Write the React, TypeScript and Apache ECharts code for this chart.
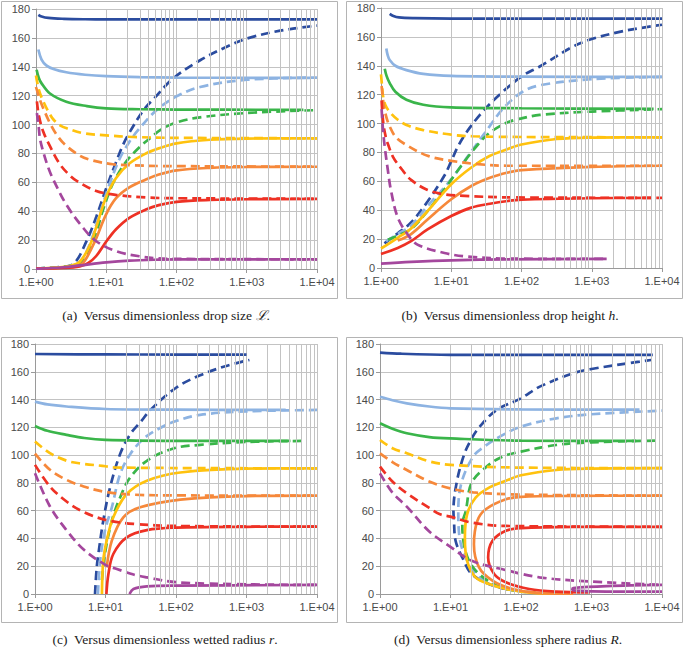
import React, { useEffect, useRef } from "react";
import * as echarts from "echarts";

// ---------- colours (one per family of curves) ----------
const FAMILY = ["darkBlue", "lightBlue", "green", "yellow", "orange", "red", "purple"];
const COLOR: Record<string, string> = {
  darkBlue: "#2b4c9f",
  lightBlue: "#8db3e2",
  green: "#3ab54a",
  yellow: "#ffc20e",
  orange: "#f6883a",
  red: "#ee3124",
  purple: "#a4479d",
};

// ---------- axis ticks ----------
const X_MIN = 1;
const X_MAX = 10000;
const Y_MIN = 0;
const Y_MAX = 180;
const Y_STEP = 20;
const MINOR_X = [20, 30, 40, 50, 60, 70, 80, 90, 200, 300, 400, 500, 600, 700, 800, 900, 2000, 3000, 4000, 5000, 6000, 7000, 8000, 9000];

// ---------- captions ----------
const CAPTIONS = [
  "{n|(a)  Versus dimensionless drop size }{i|ℒ}{n|.}",
  "{n|(b)  Versus dimensionless drop height }{i|h}{n|.}",
  "{n|(c)  Versus dimensionless wetted radius }{i|r}{n|.}",
  "{n|(d)  Versus dimensionless sphere radius }{i|R}{n|.}",
];

// ---------- panel (a): versus drop size ----------
const A_darkBlue_solid = [[1.08, 176], [1.2, 174.8], [1.5, 173.8], [2.5, 173.2], [5, 172.9], [10, 172.8], [10000, 172.8]];
const A_darkBlue_dash = [[1, 0.3], [2, 1.2], [3.4, 3.5], [5.2, 19], [7.2, 36], [10, 56], [13.8, 74], [17, 85], [20, 92], [34, 110], [50, 119], [90, 132], [217, 144.5], [500, 153.5], [1000, 159.5], [3000, 165], [10000, 168.5]];
const A_lightBlue_solid = [[1.08, 152], [1.2, 145], [1.4, 141], [1.77, 138.5], [2.7, 136.2], [5, 134.5], [10, 133.5], [30, 132.8], [100, 132.5], [8100, 132.3]];
const A_lightBlue_dash = [[1, 0.3], [2, 1.2], [3, 2.2], [4.2, 5], [5.8, 17], [8, 37.7], [11.1, 58.5], [15.4, 76], [21.3, 88], [30, 97.5], [52, 110], [100, 119.5], [217, 126], [1000, 131], [10000, 132.5]];
const A_green_solid = [[1.02, 138], [1.1, 132], [1.2, 128.5], [1.58, 121.5], [2.7, 115.8], [5.3, 112.8], [10, 111.2], [30, 110.6], [100, 110.4], [6400, 110.2]];
const A_green_dash = [[1, 0.3], [2, 1], [3, 2], [4.2, 4], [6.5, 19], [9, 41], [12.4, 59], [19, 74], [30, 84.5], [42, 90.5], [60, 96.5], [100, 101.5], [217, 105], [1000, 108], [10000, 110]];
const A_yellow_solid = [[1, 0.3], [2, 1], [3, 2], [4.2, 5], [5.8, 16], [7.2, 29], [10, 50], [13.8, 63], [21.3, 73], [36.7, 80], [56, 83.5], [100, 87], [300, 89.5], [1000, 90.3], [10000, 90.5]];
const A_yellow_dash = [[1, 134], [1.1, 124], [1.27, 116], [1.5, 109], [1.77, 103.5], [2.2, 99.5], [2.74, 97.4], [4.7, 94], [10, 92.5], [24, 91.4], [100, 90.8], [10000, 90.5]];
const A_orange_solid = [[1, 0.3], [3, 1.2], [4.2, 2.5], [5, 6], [6.8, 18.5], [10, 38], [13.8, 49], [21.3, 56.5], [36.7, 62], [56, 65.4], [100, 68.3], [300, 70], [1000, 70.6], [10000, 70.8]];
const A_orange_dash = [[1, 126], [1.14, 117], [1.3, 110], [1.58, 101], [2, 92.5], [2.6, 86], [4.2, 78.5], [6, 75.5], [12.4, 72.5], [24, 71.8], [56, 71.3], [100, 71.2], [10000, 70.8]];
const A_red_solid = [[1, 0.2], [2.44, 0.7], [4.2, 1.8], [5.5, 4], [7.2, 9], [10, 19], [13.8, 27.5], [21.3, 35.4], [36.7, 41.2], [56, 44.2], [100, 46.5], [300, 47.8], [1000, 48.3], [10000, 48.5]];
const A_red_dash = [[1.03, 116], [1.1, 106], [1.27, 95], [1.58, 85], [2.19, 72.5], [3, 65], [3.8, 61], [7.2, 54], [13.8, 51.3], [36.7, 49.5], [100, 49], [10000, 48.6]];
const A_purple_solid = [[1, 0.1], [2.44, 1.2], [4.2, 2.5], [10, 4.6], [21.3, 5.8], [56, 6.5], [100, 6.7], [10000, 6.7]];
const A_purple_dash = [[1.03, 108], [1.1, 97], [1.14, 90], [1.27, 81], [1.5, 70], [1.76, 62], [2.7, 44.6], [4.7, 28.4], [7.2, 19.2], [13.8, 12.3], [29.6, 8.8], [56, 7.3], [100, 7], [1000, 6.8], [10000, 6.7]];

// ---------- panel (b): versus drop height ----------
const B_darkBlue_solid = [[1.33, 176], [1.5, 174.5], [1.8, 173.5], [3, 173], [10, 172.7], [10000, 172.6]];
const B_darkBlue_dash = [[1.12, 17], [1.73, 24], [2.68, 31.5], [4.6, 46], [8, 64], [10, 74], [12.4, 84], [16.5, 94], [25.6, 106], [44, 118], [100, 132.6], [182, 139.5], [546, 153.4], [1000, 158.5], [2800, 164], [10000, 168.4]];
const B_lightBlue_solid = [[1.19, 152], [1.25, 147], [1.33, 144], [1.6, 140], [2.3, 137], [4, 134.4], [10, 133], [100, 132.5], [10000, 132.3]];
const B_lightBlue_dash = [[1.18, 18.6], [1.73, 23.5], [2.68, 29.5], [4.6, 42.9], [10, 61.5], [17.3, 77.5], [24, 87], [30, 93.5], [55, 110.5], [100, 121.5], [182, 126.5], [1000, 130.7], [10000, 132.3]];
const B_green_solid = [[1.13, 138], [1.2, 133], [1.33, 128], [1.6, 122], [2.3, 116.5], [4, 113], [10, 111.2], [100, 110.6], [7600, 110.2]];
const B_green_dash = [[1.25, 19.5], [1.73, 22.5], [2.68, 27], [4.6, 39.4], [8, 54.5], [13.9, 70.8], [24, 85.5], [35, 93.5], [61, 100.5], [100, 103.6], [182, 106], [1000, 108.3], [10000, 110]];
const B_yellow_solid = [[1, 13.5], [1.73, 20.9], [2.68, 27.4], [4.6, 39.4], [10, 58], [19.3, 69.6], [35, 77.5], [64, 82.4], [100, 85.5], [315, 89.3], [1000, 90.3], [10000, 90.5]];
const B_yellow_dash = [[1, 134], [1.04, 125], [1.07, 119], [1.15, 113], [1.33, 108], [1.7, 103], [2.3, 99], [4, 95.5], [10, 92.3], [20, 91.2], [100, 90.7], [10000, 90.5]];
const B_orange_solid = [[1.73, 19], [2.68, 23.5], [4.6, 33.6], [10, 47.6], [19.3, 56.8], [35.5, 62.5], [64, 66.1], [100, 67.8], [1000, 70], [10000, 70.8]];
const B_orange_dash = [[1.02, 126], [1.04, 122], [1.1, 112], [1.2, 104], [1.33, 98], [1.6, 91], [2.15, 86], [4.6, 77.7], [10, 74.2], [24, 71.9], [64, 70.8], [10000, 70.8]];
const B_red_solid = [[1, 9.7], [1.73, 13.9], [2.68, 18.6], [4.6, 26.7], [10, 36], [19.3, 41.8], [35.5, 44.5], [64, 46.4], [100, 47.3], [1000, 48.3], [7200, 48.6]];
const B_red_dash = [[1.02, 116], [1.08, 100], [1.19, 89], [1.25, 86], [1.48, 77], [2, 68], [2.68, 61], [4.6, 54], [8, 51], [15.5, 49.9], [64, 48.9], [10000, 48.6]];
const B_purple_solid = [[1, 3], [2.68, 4.2], [10, 5.3], [64, 6], [1630, 6.3]];
const B_purple_dash = [[1.02, 110], [1.07, 95], [1.13, 84], [1.25, 68], [1.39, 53.4], [1.73, 35], [2.4, 23.2], [3.3, 16.2], [8, 10.4], [15.5, 8.1], [64, 6.5], [1630, 6.3]];

// ---------- panel (c): versus wetted radius ----------
const C_darkBlue_solid = [[1, 172.8], [10, 172.5], [100, 172.4], [1000, 172.4]];
const C_darkBlue_dash = [[7.1, 0], [7.5, 19], [7.93, 29], [9.3, 52.8], [11.6, 76.7], [16.1, 100.7], [22.4, 115], [32.8, 125], [43, 132.4], [100, 148.5], [220, 157.5], [500, 164], [1100, 168.5]];
const C_lightBlue_solid = [[1, 138.5], [1.5, 136.5], [2.8, 135], [10, 133.2], [100, 132.7], [3600, 132.5]];
const C_lightBlue_dash = [[7.8, 0], [8.4, 24], [9.8, 45.6], [12.3, 62.4], [16.1, 86.3], [22.4, 100.7], [35, 112], [59.7, 119.5], [100, 124.5], [220, 129], [1000, 131.5], [10000, 132.5]];
const C_green_solid = [[1, 121], [1.5, 117.5], [2.8, 114.6], [5, 112.3], [10, 111], [100, 110.3], [4200, 110.2]];
const C_green_dash = [[8.9, 10], [9.8, 28.8], [12.3, 52.8], [16.1, 69.5], [22.4, 83.9], [38.6, 95.9], [92, 104.8], [220, 107.4], [1000, 109.5], [6500, 110.2]];
const C_yellow_solid = [[8.9, 0], [9.3, 24], [10.4, 38.4], [12.9, 55.2], [20, 72], [38.6, 81.6], [115, 87.5], [1000, 90.3], [10000, 90.5]];
const C_yellow_dash = [[1, 109.8], [1.63, 101.4], [2.8, 96], [4.4, 94], [10, 92], [12.9, 91.2], [100, 90.7], [10000, 90.5]];
const C_orange_solid = [[10.4, 19.2], [12.3, 38.4], [17.9, 55.2], [31, 62.4], [115, 68], [1000, 70.5], [10000, 70.8]];
const C_orange_dash = [[1, 101], [1.63, 89.4], [2.8, 82.2], [4.9, 77.4], [10, 73.5], [25, 71.5], [100, 71], [10000, 70.8]];
const C_red_solid = [[10.3, 0], [11, 14.4], [12.9, 28.8], [20, 40.8], [38.6, 46], [100, 47.8], [1000, 48.4], [10000, 48.5]];
const C_red_dash = [[1, 93], [1.63, 77.4], [2.8, 66.6], [4.9, 59], [10, 53.4], [25, 50.5], [100, 49], [10000, 48.5]];
const C_purple_solid = [[21.9, 0], [24.9, 3.6], [38.6, 5.5], [100, 6], [10000, 6.5]];
const C_purple_dash = [[1, 87], [1.63, 63], [2.8, 46], [4.9, 32], [10, 21], [14.5, 18], [25, 14], [38.6, 12], [100, 8.5], [1000, 7], [10000, 6.5]];

// ---------- panel (d): versus sphere radius ----------
const D_darkBlue_solid = [[1, 173.8], [2, 173], [10, 172.2], [100, 172.1], [7400, 172.1]];
const D_darkBlue_dash = [[160, 1], [106, 1.9], [61, 3.6], [35, 7.2], [20, 14.4], [14.7, 26.3], [11.8, 38.3], [11.2, 52.6], [11, 60], [12.2, 80], [15.5, 100], [20, 112], [26, 120.5], [45, 132.5], [100, 140.9], [185, 149.3], [550, 158.9], [1000, 162], [4800, 167.3], [7000, 168.5]];
const D_lightBlue_solid = [[1, 142], [1.5, 139.5], [2.4, 137.3], [5, 135], [10, 133.7], [100, 132.9], [4800, 132.7]];
const D_lightBlue_dash = [[120, 1.2], [61, 3.6], [35, 7.5], [22.7, 14.4], [16.4, 26.3], [13.5, 40], [12.9, 60], [14.3, 80], [21, 99], [30, 106], [50, 113.3], [100, 120.5], [317, 126.5], [1000, 129.4], [10000, 132]];
const D_green_solid = [[1, 123], [1.5, 119], [2.4, 115.7], [5, 113], [10, 112], [100, 110.4], [4300, 110.2]];
const D_green_dash = [[80, 2.5], [45, 6], [25.4, 14.4], [18.3, 23.9], [15.5, 35.9], [14.7, 50.2], [16.5, 60], [19.9, 80], [32.5, 91.7], [55, 99], [100, 102.5], [317, 107.3], [1000, 109.2], [8200, 110.4]];
const D_yellow_solid = [[300, 0.3], [183, 0.5], [100, 1.7], [61, 3.6], [35.3, 7.2], [22.7, 12], [17.2, 23.9], [16, 40.7], [17.2, 57.4], [22.7, 69.4], [35.3, 76.6], [61, 81.5], [100, 85.5], [316, 89.3], [1000, 90.3], [10000, 90.6]];
const D_yellow_dash = [[1, 110.9], [1.5, 105], [2.4, 101.3], [5, 95.5], [10, 93], [100, 91], [10000, 90.6]];
const D_orange_solid = [[550, 0.3], [183, 0.7], [76, 3.6], [39.4, 9.6], [25.4, 19.1], [21.5, 35.9], [24, 52.6], [31.6, 61], [61, 68.2], [100, 70], [550, 70.6], [10000, 70.8]];
const D_orange_dash = [[1, 101.3], [1.5, 95], [2.4, 89.3], [5, 81], [10, 76], [21, 73.2], [100, 71.6], [10000, 70.8]];
const D_red_solid = [[950, 1.2], [315, 1.7], [131, 3.6], [61, 8.4], [41.6, 14.4], [34.2, 26.3], [39.4, 38.3], [61, 45.5], [100, 47.4], [550, 48.3], [10000, 48.4]];
const D_red_dash = [[1, 91.7], [1.5, 81], [2.4, 72.5], [5, 62], [7.1, 57.4], [10, 55.7], [20, 51.4], [61, 49], [10000, 48.4]];
const D_purple_solid = [[10000, 1.7], [1640, 1.7], [610, 2.4], [535, 3.3], [550, 4.3], [1640, 5.7], [10000, 6.5]];
const D_purple_dash = [[1, 86.9], [1.5, 73], [2.4, 62.9], [5, 45], [10, 34], [20, 23.9], [61, 17.2], [183, 12], [950, 9], [10000, 6.5]];

const PANELS: Record<string, number[][]>[] = [
  {
    darkBlue_solid: A_darkBlue_solid, darkBlue_dash: A_darkBlue_dash,
    lightBlue_solid: A_lightBlue_solid, lightBlue_dash: A_lightBlue_dash,
    green_solid: A_green_solid, green_dash: A_green_dash,
    yellow_solid: A_yellow_solid, yellow_dash: A_yellow_dash,
    orange_solid: A_orange_solid, orange_dash: A_orange_dash,
    red_solid: A_red_solid, red_dash: A_red_dash,
    purple_solid: A_purple_solid, purple_dash: A_purple_dash,
  },
  {
    darkBlue_solid: B_darkBlue_solid, darkBlue_dash: B_darkBlue_dash,
    lightBlue_solid: B_lightBlue_solid, lightBlue_dash: B_lightBlue_dash,
    green_solid: B_green_solid, green_dash: B_green_dash,
    yellow_solid: B_yellow_solid, yellow_dash: B_yellow_dash,
    orange_solid: B_orange_solid, orange_dash: B_orange_dash,
    red_solid: B_red_solid, red_dash: B_red_dash,
    purple_solid: B_purple_solid, purple_dash: B_purple_dash,
  },
  {
    darkBlue_solid: C_darkBlue_solid, darkBlue_dash: C_darkBlue_dash,
    lightBlue_solid: C_lightBlue_solid, lightBlue_dash: C_lightBlue_dash,
    green_solid: C_green_solid, green_dash: C_green_dash,
    yellow_solid: C_yellow_solid, yellow_dash: C_yellow_dash,
    orange_solid: C_orange_solid, orange_dash: C_orange_dash,
    red_solid: C_red_solid, red_dash: C_red_dash,
    purple_solid: C_purple_solid, purple_dash: C_purple_dash,
  },
  {
    darkBlue_solid: D_darkBlue_solid, darkBlue_dash: D_darkBlue_dash,
    lightBlue_solid: D_lightBlue_solid, lightBlue_dash: D_lightBlue_dash,
    green_solid: D_green_solid, green_dash: D_green_dash,
    yellow_solid: D_yellow_solid, yellow_dash: D_yellow_dash,
    orange_solid: D_orange_solid, orange_dash: D_orange_dash,
    red_solid: D_red_solid, red_dash: D_red_dash,
    purple_solid: D_purple_solid, purple_dash: D_purple_dash,
  },
];

// ---------- layout ----------
const GRIDS = [
  { left: 36, top: 9, width: 281, height: 260 },
  { left: 381, top: 8, width: 281, height: 260 },
  { left: 35, top: 344, width: 282, height: 250 },
  { left: 380, top: 344, width: 282, height: 250 },
];
const FRAMES = [
  { x: 1.5, y: 1.5, width: 336, height: 297 },
  { x: 346.5, y: 1.5, width: 336, height: 297 },
  { x: 1.5, y: 337.5, width: 336, height: 285 },
  { x: 346.5, y: 337.5, width: 336, height: 285 },
];
const CAPTION_POS = [
  { x: 166, y: 315 },
  { x: 510, y: 315 },
  { x: 165, y: 639 },
  { x: 508, y: 639 },
];

const GRID_COLOR = "#c3c3c3";
const AXIS_COLOR = "#9a9a9a";
const LABEL_COLOR = "#4a4a4a";
const LABEL_FONT = "Liberation Sans";
const CAPTION_FONT = "Liberation Serif";
const CAPTION_SIZE = 13.5;

export default function App() {
  const ref = useRef<HTMLDivElement>(null);

  useEffect(() => {
    if (!ref.current) return;
    const chart = echarts.init(ref.current, null, { renderer: "svg" });

    const xAxes = GRIDS.map((_, i) => ({
      type: "log",
      logBase: 10,
      gridIndex: i,
      min: X_MIN,
      max: X_MAX,
      axisLine: { show: true, lineStyle: { color: AXIS_COLOR, width: 1 } },
      axisTick: { show: true, length: 4, lineStyle: { color: AXIS_COLOR } },
      splitLine: { show: true, lineStyle: { color: GRID_COLOR, width: 1 } },
      axisLabel: {
        color: LABEL_COLOR,
        fontFamily: LABEL_FONT,
        fontSize: 11,
        margin: 7,
        formatter: (v: number) => "1.E+" + String(Math.round(Math.log10(v))).padStart(2, "0"),
      },
    }));
    const yAxes = GRIDS.map((_, i) => ({
      type: "value",
      gridIndex: i,
      min: Y_MIN,
      max: Y_MAX,
      interval: Y_STEP,
      axisLine: { show: true, lineStyle: { color: AXIS_COLOR, width: 1 } },
      axisTick: { show: true, length: 4, lineStyle: { color: AXIS_COLOR } },
      splitLine: { show: true, lineStyle: { color: GRID_COLOR, width: 1 } },
      axisLabel: { color: LABEL_COLOR, fontFamily: LABEL_FONT, fontSize: 11, margin: 6 },
    }));

    const series: any[] = [];
    GRIDS.forEach((_, p) => {
      series.push({
        type: "line",
        xAxisIndex: p,
        yAxisIndex: p,
        data: [],
        silent: true,
        z: 1,
        markLine: {
          silent: true,
          symbol: ["none", "none"],
          label: { show: false },
          animation: false,
          lineStyle: { color: GRID_COLOR, width: 1, type: "solid" },
          data: MINOR_X.map((v) => ({ xAxis: v })),
        },
      });
      const panel = PANELS[p];
      FAMILY.forEach((fam) => {
        ["dash", "solid"].forEach((kind) => {
          series.push({
            type: "line",
            xAxisIndex: p,
            yAxisIndex: p,
            data: panel[fam + "_" + kind],
            symbol: "none",
            showSymbol: false,
            smooth: 0.35,
            silent: true,
            z: 3,
            clip: true,
            lineStyle: {
              color: COLOR[fam],
              width: 2.7,
              type: kind === "dash" ? [9, 5] : "solid",
              cap: "butt",
            },
          });
        });
      });
    });

    const graphic: any[] = [];
    FRAMES.forEach((f) => {
      graphic.push({
        type: "rect",
        shape: f,
        silent: true,
        z: -1,
        style: { fill: "none", stroke: "#b4b4b4", lineWidth: 1 },
      });
    });
    CAPTIONS.forEach((t, i) => {
      graphic.push({
        type: "text",
        x: CAPTION_POS[i].x,
        y: CAPTION_POS[i].y,
        silent: true,
        style: {
          text: t,
          fill: "#1a1a1a",
          fontFamily: CAPTION_FONT,
          fontSize: CAPTION_SIZE,
          align: "center",
          verticalAlign: "middle",
          rich: {
            n: { fontFamily: CAPTION_FONT, fontSize: CAPTION_SIZE, fill: "#1a1a1a" },
            i: { fontStyle: "italic", fontFamily: CAPTION_FONT, fontSize: CAPTION_SIZE, fill: "#1a1a1a" },
          },
        },
      });
    });

    chart.setOption({
      animation: false,
      backgroundColor: "#ffffff",
      grid: GRIDS.map((g) => ({ ...g, containLabel: false })),
      xAxis: xAxes,
      yAxis: yAxes,
      series,
      graphic,
    });

    return () => chart.dispose();
  }, []);

  return (
    <div
      ref={ref}
      style={{ position: "absolute", left: 0, top: 0, width: 685, height: 650, background: "#fff" }}
    />
  );
}
